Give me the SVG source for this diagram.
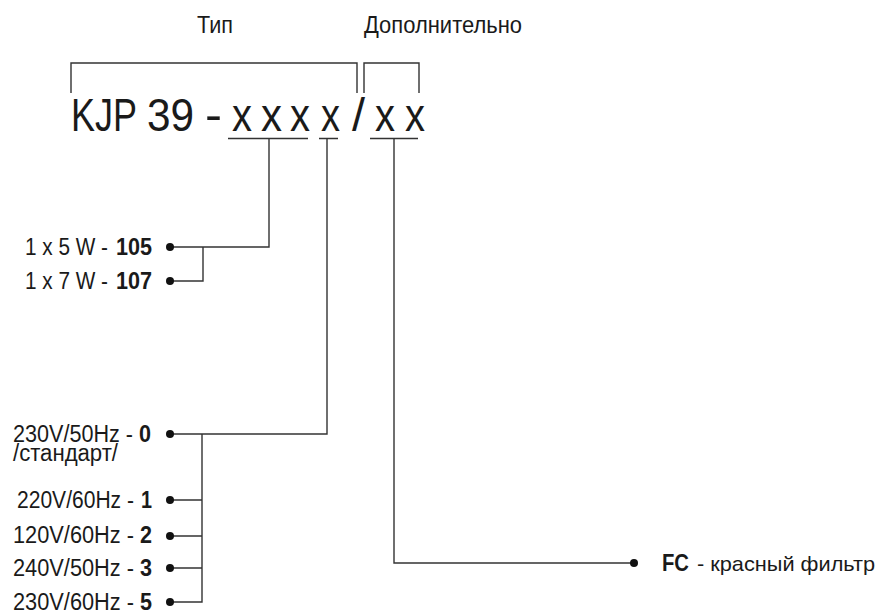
<svg xmlns="http://www.w3.org/2000/svg" width="880" height="614" viewBox="0 0 880 614">
<style>
.t{font-family:"Liberation Sans",Arial,sans-serif;font-size:23px;fill:#1a1a1a}
.s{font-size:21px}
.big{font-family:"Liberation Sans",Arial,sans-serif;font-size:46px;fill:#1a1a1a}
.b{font-weight:bold}
.ln{fill:none;stroke:#333;stroke-width:1.4}
.dot{fill:#111}
</style>
<rect width="880" height="614" fill="#fff"/>
<g id="header">
<text class="t" x="197" y="33" textLength="36" lengthAdjust="spacingAndGlyphs">Тип</text>
<text class="t" x="364" y="33" textLength="158" lengthAdjust="spacingAndGlyphs">Дополнительно</text>
<path class="ln" d="M71,93 V63 H357 V93 M364,93 V63 H419 V93"/>
</g>
<g id="code">
<text class="big" x="71" y="131" textLength="66" lengthAdjust="spacingAndGlyphs">KJP</text>
<text class="big" x="147" y="131" textLength="47" lengthAdjust="spacingAndGlyphs">39</text>
<text class="big" x="205" y="131" textLength="17" lengthAdjust="spacingAndGlyphs">-</text>
<text class="big" x="232" y="131" textLength="20" lengthAdjust="spacingAndGlyphs">x</text>
<text class="big" x="261" y="131" textLength="21" lengthAdjust="spacingAndGlyphs">x</text>
<text class="big" x="290" y="131" textLength="20" lengthAdjust="spacingAndGlyphs">x</text>
<text class="big" x="321" y="131" textLength="19" lengthAdjust="spacingAndGlyphs">x</text>
<text class="big" x="352" y="131" textLength="13" lengthAdjust="spacingAndGlyphs">/</text>
<text class="big" x="375" y="131" textLength="20" lengthAdjust="spacingAndGlyphs">x</text>
<text class="big" x="405" y="131" textLength="20" lengthAdjust="spacingAndGlyphs">x</text>
</g>
<g id="power-105">
<text class="t" x="25" y="255" textLength="83" lengthAdjust="spacingAndGlyphs">1 x 5 W -</text>
<text class="t b" x="116" y="255" textLength="36" lengthAdjust="spacingAndGlyphs">105</text>
</g>
<g id="power-107">
<text class="t" x="25" y="289" textLength="83" lengthAdjust="spacingAndGlyphs">1 x 7 W -</text>
<text class="t b" x="116" y="289" textLength="36" lengthAdjust="spacingAndGlyphs">107</text>
</g>
<g id="volt-0">
<text class="t" x="13" y="442" textLength="120" lengthAdjust="spacingAndGlyphs">230V/50Hz -</text>
<text class="t b" x="139" y="442" textLength="12" lengthAdjust="spacingAndGlyphs">0</text>
<text class="t" x="13" y="461" textLength="105" lengthAdjust="spacingAndGlyphs">/стандарт/</text>
</g>
<g id="volt-1">
<text class="t" x="17" y="508" textLength="117" lengthAdjust="spacingAndGlyphs">220V/60Hz -</text>
<text class="t b" x="141" y="508" textLength="11" lengthAdjust="spacingAndGlyphs">1</text>
</g>
<g id="volt-2">
<text class="t" x="13" y="543" textLength="121" lengthAdjust="spacingAndGlyphs">120V/60Hz -</text>
<text class="t b" x="140" y="543" textLength="12" lengthAdjust="spacingAndGlyphs">2</text>
</g>
<g id="volt-3">
<text class="t" x="13" y="576" textLength="121" lengthAdjust="spacingAndGlyphs">240V/50Hz -</text>
<text class="t b" x="140" y="576" textLength="12" lengthAdjust="spacingAndGlyphs">3</text>
</g>
<g id="volt-5">
<text class="t" x="13" y="610" textLength="121" lengthAdjust="spacingAndGlyphs">230V/60Hz -</text>
<text class="t b" x="140" y="610" textLength="12" lengthAdjust="spacingAndGlyphs">5</text>
</g>
<g id="filter">
<text class="t b" x="662" y="571" textLength="27" lengthAdjust="spacingAndGlyphs">FC</text>
<text class="t s" x="697" y="571" textLength="178" lengthAdjust="spacingAndGlyphs">- красный фильтр</text>
</g>
<g id="connectors">
<path class="ln" d="M228,138.5 H308 M319,138.5 H338 M370,138.5 H418"/>
<path class="ln" d="M269,138.5 V247 H170 M203,247 V281 H170"/>
<path class="ln" d="M327,138.5 V434 H170 M202,434 V602 H170 M202,500 H170 M202,536 H170 M202,568 H170"/>
<path class="ln" d="M394,138.5 V563 H634"/>
<circle class="dot" cx="170" cy="247" r="4"/>
<circle class="dot" cx="170" cy="281" r="4"/>
<circle class="dot" cx="170" cy="434" r="4"/>
<circle class="dot" cx="170" cy="500" r="4"/>
<circle class="dot" cx="170" cy="536" r="4"/>
<circle class="dot" cx="170" cy="568" r="4"/>
<circle class="dot" cx="170" cy="602" r="4"/>
<circle class="dot" cx="634" cy="563" r="4"/>
</g>
</svg>
